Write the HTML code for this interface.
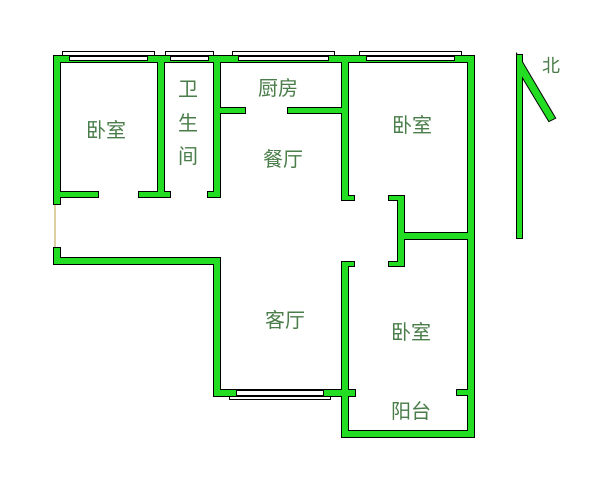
<!DOCTYPE html>
<html><head><meta charset="utf-8"><style>
html,body{margin:0;padding:0;background:#fff;width:616px;height:491px;overflow:hidden}
svg{display:block}
text{font-family:"Liberation Sans","Noto Sans CJK SC",sans-serif;font-size:20px;fill:#4a7d4a}
</style></head><body>
<svg width="616" height="491" viewBox="0 0 616 491" xmlns="http://www.w3.org/2000/svg">
<defs>
<g id="walls">
<rect x="54" y="56" width="420" height="6"/>
<rect x="54" y="56" width="6" height="148"/>
<rect x="54" y="248" width="6" height="16"/>
<rect x="54" y="258" width="166" height="6"/>
<rect x="214" y="258" width="6" height="138"/>
<rect x="214" y="390" width="141" height="6"/>
<rect x="468" y="56" width="6" height="381"/>
<rect x="342" y="262" width="6" height="175"/>
<rect x="342" y="262" width="12" height="4"/>
<rect x="342" y="431" width="132" height="6"/>
<rect x="457" y="390" width="17" height="5"/>
<rect x="158" y="56" width="6" height="141"/>
<rect x="54" y="192" width="44" height="5"/>
<rect x="139" y="192" width="31" height="5"/>
<rect x="214" y="56" width="6" height="141"/>
<rect x="208" y="192" width="12" height="5"/>
<rect x="214" y="108" width="31" height="5"/>
<rect x="288" y="108" width="60" height="5"/>
<rect x="342" y="56" width="6" height="144"/>
<rect x="342" y="196" width="12" height="4"/>
<rect x="398" y="196" width="6" height="70"/>
<rect x="389" y="196" width="15" height="4"/>
<rect x="389" y="262" width="15" height="4"/>
<rect x="398" y="233" width="76" height="6"/>
<rect x="517" y="55" width="5" height="183"/>
<polygon points="517,55 522,62 555,118 549,121 517,68"/>
</g>
</defs>
<!-- windows -->
<g fill="#fff" stroke="#000" stroke-width="1">
<rect x="62.5" y="51.5" width="92" height="5"/>
<rect x="165.5" y="51.5" width="48" height="5"/>
<rect x="232.5" y="51.5" width="102" height="5"/>
<rect x="359.5" y="51.5" width="102" height="5"/>
<rect x="229.5" y="395.5" width="101" height="4"/>
</g>
<line x1="55" y1="204" x2="55" y2="248" stroke="#b8a040" stroke-width="1"/>
<g fill="#000" stroke="#000" stroke-width="2"><use href="#walls"/></g>
<g fill="#22dd22"><use href="#walls"/></g>
<!-- window sashes -->
<g fill="#fff" stroke="#000" stroke-width="1">
<rect x="69.5" y="56.5" width="78" height="4"/>
<rect x="170.5" y="56.5" width="38" height="4"/>
<rect x="238.5" y="56.5" width="90" height="4"/>
<rect x="366.5" y="56.5" width="88" height="4"/>
<rect x="236.5" y="390.5" width="87" height="5"/>
</g>
<text x="86" y="137">卧室</text>
<text x="178" y="96">卫</text>
<text x="178" y="130">生</text>
<text x="178" y="163">间</text>
<text x="258" y="95">厨房</text>
<text x="263" y="166">餐厅</text>
<text x="392" y="132">卧室</text>
<text x="265" y="327">客厅</text>
<text x="391" y="339">卧室</text>
<text x="391" y="418">阳台</text>
<text x="542" y="72" style="font-size:18px">北</text>
</svg>
</body></html>
